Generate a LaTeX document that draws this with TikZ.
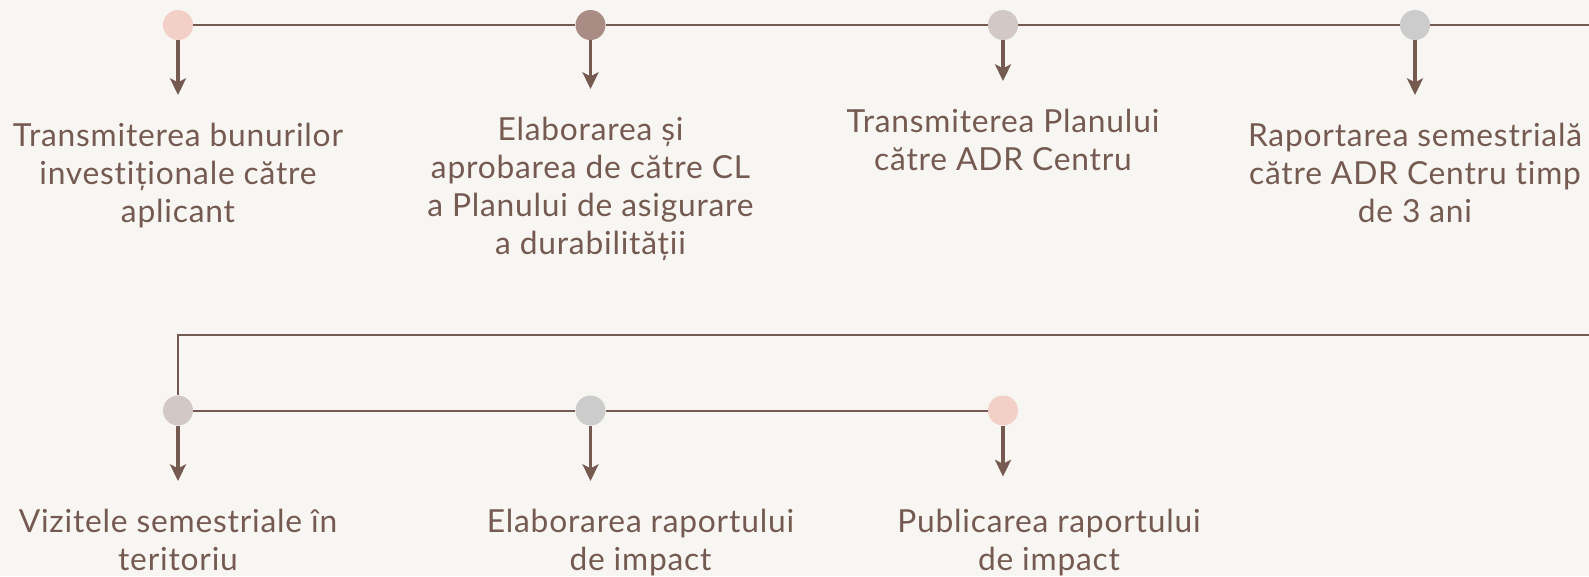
\documentclass[tikz,border=0pt]{standalone}
\usepackage{fontspec}
\setmainfont[LetterSpace=2.5,Ligatures={NoCommon}]{Lato}
\usetikzlibrary{arrows.meta}
\definecolor{bg}{HTML}{F8F6F2}
\definecolor{ink}{HTML}{755A51}
\definecolor{cpink}{HTML}{F3D0C7}
\definecolor{cbrown}{HTML}{A98C83}
\definecolor{cmauve}{HTML}{D2C8C6}
\definecolor{cgrey}{HTML}{CCCCCC}
\newcommand{\lst}{\rule{0pt}{16.5pt}}
\newcommand{\lsb}{\rule[-5.5pt]{0pt}{5.5pt}}
\tikzset{x=0.75pt,y=-0.75pt,
 dot/.style={circle,inner sep=0pt,minimum size=22.5pt},
 tline/.style={draw=ink,line width=1.5pt},
 arr/.style={draw=ink,line width=2.6pt,-{Stealth[length=12.5pt,width=12pt,inset=3pt]}},
 lab/.style={text=ink,align=center,inner sep=0pt,font=\fontsize{23.8pt}{28.5pt}\selectfont,anchor=center}}
\begin{document}
\begin{tikzpicture}
\useasboundingbox[fill=bg] (0,0) rectangle (1589,576);
\coordinate (e1) at (1589,25);
\coordinate (e2) at (1589,334.5);
\coordinate (c) at (178,334.5);
\node[dot,fill=cpink] (a1) at (178,25) {};
\node[dot,fill=cbrown] (a2) at (590.5,25) {};
\node[dot,fill=cmauve] (a3) at (1003,25) {};
\node[dot,fill=cgrey] (a4) at (1415,25) {};
\node[dot,fill=cmauve] (b1) at (178,410.5) {};
\node[dot,fill=cgrey] (b2) at (590.5,410.5) {};
\node[dot,fill=cpink] (b3) at (1003,410.5) {};
\coordinate (t1) at (178,95);
\coordinate (t2) at (590.5,89);
\coordinate (t3) at (1003,81);
\coordinate (t4) at (1415,95);
\coordinate (u1) at (178,481);
\coordinate (u2) at (590.5,481);
\coordinate (u3) at (1003,476.5);
\draw[tline] (a1)--(a2); \draw[tline] (a2)--(a3); \draw[tline] (a3)--(a4); \draw[tline] (a4)--(e1);
\draw[tline] (e2)--(c)--(b1); \draw[tline] (b1)--(b2); \draw[tline] (b2)--(b3);
\foreach \p/\q in {a1/t1,a2/t2,a3/t3,a4/t4,b1/u1,b2/u2,b3/u3}{\draw[arr] (\p)--(\q);}
\node[lab] (l1) at (178,176) {\lst Transmiterea bunurilor\\investiționale către\\aplicant\lsb};
\node[lab] (l2) at (590.5,189) {\lst Elaborarea și\\aprobarea de către CL\\a Planului de asigurare\\a durabilității\lsb};
\node[lab] (l3) at (1003,143) {\lst Transmiterea Planului\\către ADR Centru\lsb};
\node[lab] (l4) at (1415,176) {\lst Raportarea semestrială\\către ADR Centru timp\\de 3 ani\lsb};
\node[lab] (m1) at (178,543.5) {\lst Vizitele semestriale în\\teritoriu\lsb};
\node[lab] (m2) at (640.5,543.5) {\lst Elaborarea raportului\\de impact\lsb};
\node[lab] (m3) at (1049,543.5) {\lst Publicarea raportului\\de impact\lsb};
\end{tikzpicture}
\end{document}
